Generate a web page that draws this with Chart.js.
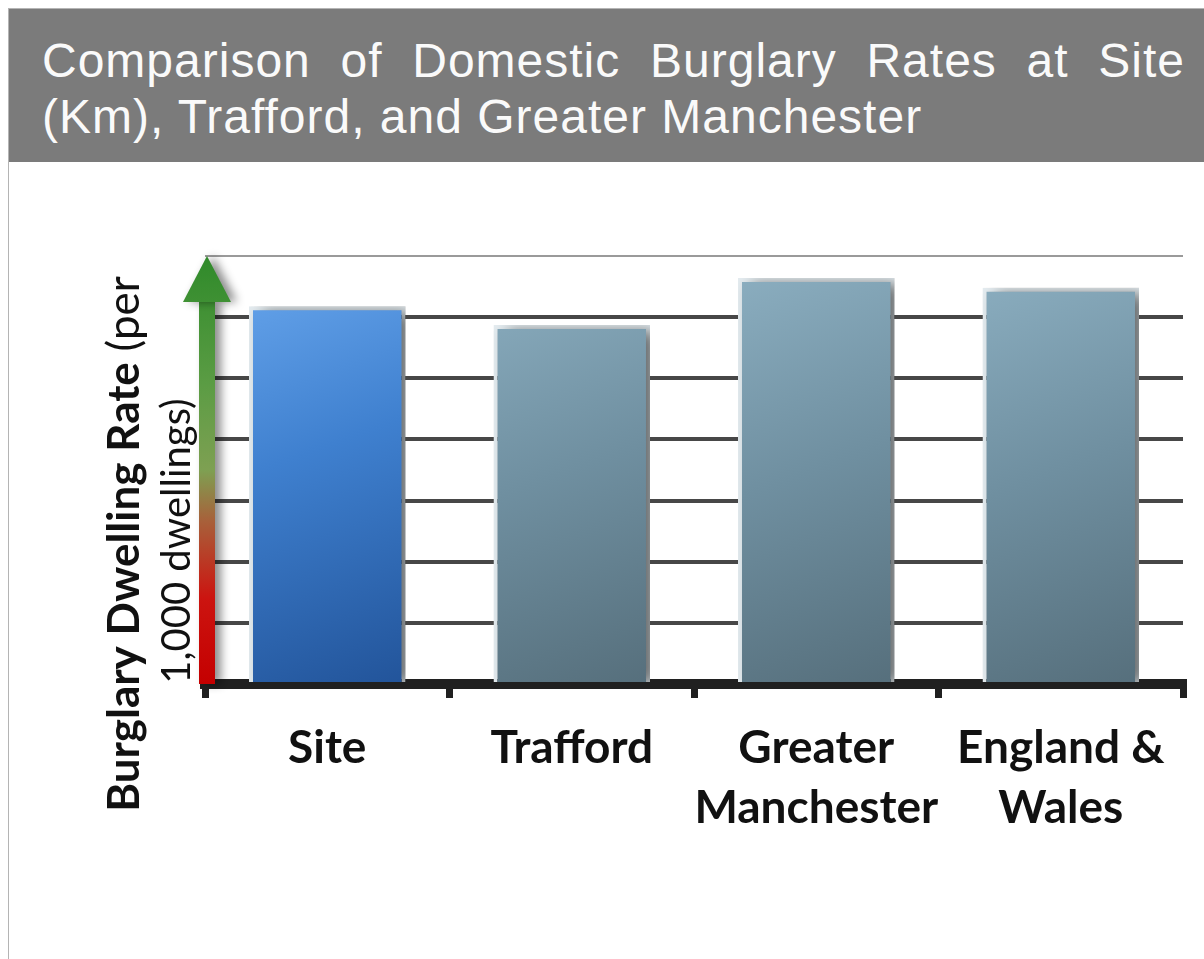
<!DOCTYPE html>
<html>
<head>
<meta charset="utf-8">
<script src="https://cdn.jsdelivr.net/npm/chart.js@4"></script>
<style>
  body { margin: 0; background: #fff; overflow: hidden; }
  #frame { position: absolute; left: 8px; top: 8px; width: 1220px; height: 980px; border: 1px solid #b4b4b4; }
  #title {
    box-sizing: content-box; width: 1143px; height: 129px;
    padding: 24px 50px 0 33px; background: #7b7b7b; color: #fafafa;
    font: 48px "Liberation Sans", Arial, sans-serif; line-height: 56px;
    letter-spacing: 1px;
  }
  #title .l1 { text-align: justify; text-align-last: justify; }
  #wrap { position: absolute; left: 0; top: 154px; width: 1195px; height: 796px; }
</style>
</head>
<body>
<div id="frame">
  <div id="title"><div class="l1">Comparison of Domestic Burglary Rates at Site</div><div>(Km), Trafford, and Greater Manchester</div></div>
  <div id="wrap"><canvas id="chart"></canvas></div>
</div>
<script>
// Chart data
const categories = ['Site', 'Trafford', ['Greater', 'Manchester'], ['England &', 'Wales']];
const rates = [6.18, 5.87, 6.64, 6.48];
const yMax = 7;
const titleBold = 'Burglary Dwelling Rate ';
const titleRest = '(per';
const titleLine2 = '1,000 dwellings)';

const BAR_PCT = 0.64;

// gradient for each bar, built from the scale position of that bar
function barFill(ctx) {
  const chart = ctx.chart;
  const area = chart.chartArea;
  if (!area) return '#6f8fa0';
  const xs = chart.scales.x;
  const cx = xs.getPixelForValue(ctx.dataIndex);
  const w = xs.width / categories.length * BAR_PCT;
  const g = chart.ctx.createLinearGradient(cx - w / 2, area.top, cx + w / 2, area.bottom);
  if (ctx.dataIndex === 0) {
    g.addColorStop(0, '#6aa8ee');
    g.addColorStop(0.45, '#3f80cf');
    g.addColorStop(1, '#22549a');
  } else {
    g.addColorStop(0, '#8db0c2');
    g.addColorStop(0.5, '#6f8fa0');
    g.addColorStop(1, '#566f7c');
  }
  return g;
}

const barShadow = {
  id: 'barShadow',
  beforeDatasetsDraw(chart) {
    const c = chart.ctx;
    c.save();
    c.shadowColor = 'rgba(0,0,0,0.55)';
    c.shadowBlur = 14;
    c.shadowOffsetX = 9;
    c.shadowOffsetY = 2;
  },
  afterDatasetsDraw(chart) {
    chart.ctx.restore();
  }
};

// green/red arrow along the y axis
const axisArrow = {
  id: 'axisArrow',
  afterDraw(chart) {
    const c = chart.ctx;
    const ys = chart.scales.y;
    const x = chart.chartArea.left + 2;
    const yBot = ys.getPixelForValue(0);
    const yTop = ys.getPixelForValue(yMax);
    const headBase = yTop + 46;
    const g = c.createLinearGradient(0, yBot, 0, yTop);
    g.addColorStop(0, '#c40000');
    g.addColorStop(0.2, '#cc1410');
    g.addColorStop(0.38, '#a8603a');
    g.addColorStop(0.5, '#7ea052');
    g.addColorStop(0.7, '#5b9c44');
    g.addColorStop(1, '#2f8a2a');
    c.save();
    c.shadowColor = 'rgba(0,0,0,0.45)';
    c.shadowBlur = 10;
    c.shadowOffsetX = 6;
    c.fillStyle = g;
    c.fillRect(x - 8, headBase - 1, 16, yBot - headBase + 1);
    c.beginPath();
    c.moveTo(x, yTop);
    c.lineTo(x + 24, headBase);
    c.lineTo(x - 24, headBase);
    c.closePath();
    c.fill();
    c.restore();
  }
};

// rotated y-axis title with a bold part and a normal part
const yTitle = {
  id: 'yTitle',
  afterDraw(chart) {
    const c = chart.ctx;
    const area = chart.chartArea;
    const cy = area.bottom - 140;
    c.save();
    c.fillStyle = '#111';
    c.textBaseline = 'middle';
    c.translate(area.left - 80, cy);
    c.rotate(-Math.PI / 2);
    const fb = 'bold 44px Lato, "Open Sans", sans-serif';
    const fn = '44px Lato, "Open Sans", sans-serif';
    c.font = fb;
    const wb = c.measureText(titleBold).width;
    c.font = fn;
    const wn = c.measureText(titleRest).width;
    let x0 = -(wb + wn) / 2;
    c.font = fb;
    c.fillText(titleBold, x0, 0);
    c.font = fn;
    c.fillText(titleRest, x0 + wb, 0);
    c.restore();

    c.save();
    c.fillStyle = '#111';
    c.textBaseline = 'middle';
    c.textAlign = 'center';
    c.translate(area.left - 28, cy - 3);
    c.rotate(-Math.PI / 2);
    c.font = '40px Lato, "Open Sans", sans-serif';
    c.fillText(titleLine2, 0, 0);
    c.restore();
  }
};

new Chart(document.getElementById('chart'), {
  type: 'bar',
  data: {
    labels: categories,
    datasets: [{
      data: rates,
      backgroundColor: barFill,
      borderColor: '#e4ecf0',
      borderWidth: 4,
      barPercentage: BAR_PCT,
      categoryPercentage: 1
    }]
  },
  options: {
    responsive: true,
    maintainAspectRatio: false,
    animation: false,
    layout: { padding: { left: 196, right: 21, top: 93, bottom: 135 } },
    plugins: { legend: { display: false }, tooltip: { enabled: false }, title: { display: false } },
    scales: {
      x: {
        afterFit(scale) { scale.height = 140; },
        border: { display: true, color: '#202020', width: 10 },
        grid: {
          offset: true,
          drawOnChartArea: false,
          drawTicks: true,
          tickLength: 14,
          color: '#202020',
          lineWidth: 7
        },
        ticks: {
          color: '#111',
          padding: 20,
          font: { family: 'Lato, "Open Sans", sans-serif', size: 46, weight: 'bold', lineHeight: 1.3 },
          maxRotation: 0,
          autoSkip: false
        }
      },
      y: {
        min: 0,
        max: yMax,
        afterFit(scale) { scale.width = 0; },
        border: { display: false },
        ticks: { display: false, stepSize: 1 },
        grid: {
          drawTicks: false,
          color: ctx => ctx.tick.value === 0 ? 'rgba(0,0,0,0)' : (ctx.tick.value === yMax ? '#9a9a9a' : '#474747'),
          lineWidth: ctx => ctx.tick.value === yMax ? 2 : 4
        }
      }
    }
  },
  plugins: [barShadow, axisArrow, yTitle]
});
</script>
</body>
</html>
